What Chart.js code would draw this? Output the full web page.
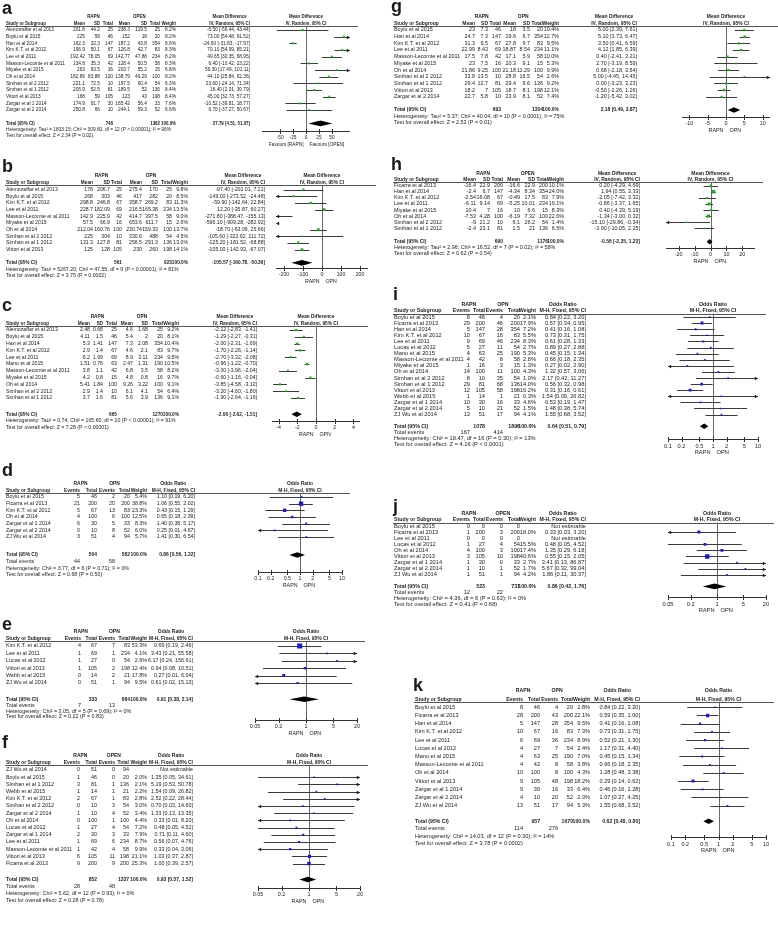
<!DOCTYPE html>
<html>
<head>
<meta charset="utf-8">
<script src="https://cdn.jsdelivr.net/npm/chart.js@4.4.0/dist/chart.umd.min.js"></script>
<style>
  body { margin: 0; background: #fff; width: 778px; height: 936px; position: relative; overflow: hidden; }
  canvas { position: absolute; }
</style>
</head>
<body>
<script>
// ===================== DATA =====================

// a - mean difference (RAPN vs OPEN)
const aStudy = ['Alemozaffar et al 2013','Boylu et al 2015','Han et al 2014','Kim K.T. et al 2012','Lee et al 2011','Masson-Lecomte et al 2011','Miyake et al 2015','Oh et al 2014','Simhan et al 2 2012','Simhan et al 1 2012','Vittori et al 2013','Zargar et al 1 2014','Zargar et al 2 2014'];
const aRapn = ['201.8 44.2 25','225 58 46','162.3 32.3 147','196.9 50.1 67','192.42 78.05 69','134.8 35.3 42','263 63.5 16','182.89 83.88 100','221.1 72.5 10','205.9 52.5 81','168 59 105','174.9 61.7 30','250.8 66 10'];
const aOpn = ['238.3 119.5 25','152 18 20','187.2 43.8 354','126.8 42.7 83','142.77 47.88 234','128.4 50.5 58','203.7 55.2 15','138.79 49.29 100','197.5 60.4 54','189.5 52 136','123 43 198','185.42 56.4 33','244.1 59.3 52'];
const aWeight = [8.2,8.2,8.6,8.3,8.2,8.3,6.8,8.2,6.3,8.4,8.4,7.6,6.6];
const aEst = [-6.50,73.00,-24.90,70.10,49.65,6.40,59.30,44.10,23.60,16.40,45.00,-10.52,6.70];
const aLow = [-56.44,54.48,-31.83,54.99,30.35,-10.42,17.49,25.84,-24.14,2.01,32.73,-39.81,-37.27];
const aHigh = [43.44,91.52,-17.97,85.21,68.95,23.22,101.11,62.36,71.34,30.79,57.27,18.77,50.67];
const aTotalN = [748, 1362];
const aPooled = [27.79, 4.51, 51.07];
const aHet = 'Heterogeneity: Tau² = 1833.15; Chi² = 309.60, df = 12 (P < 0.00001); I² = 96%';
const aTest = 'Test for overall effect: Z = 2.34 (P = 0.02)';
const aTicks = [-50,-25,0,25,50];

// b
const bStudy = ['Alemozaffar et al 2013','Boylu et al 2015','Kim K.T. et al 2012','Lee et al 2011','Masson-Lecomte et al 2011','Miyake et al 2015','Oh et al 2014','Simhan et al 2 2012','Simhan et al 1 2012','Vittori et al 2013'];
const bRapn = ['178 206.7 25','268 303 46','298.8 246.8 67','228.7 182.09 69','142.9 225.9 42','57.5 66.9 16','212.04 160.76 100','225 304 10','131.3 127.8 81','125 128 105'];
const bOpn = ['275.4 170 25','417 282 20','358.7 269.2 83','216.5 165.38 234','414.7 397.5 58','653.6 611.7 15','230.74 159.33 100','330.6 488 54','256.5 291.3 136','230 260 198'];
const bWeight = [9.8,8.5,11.3,13.5,9.0,2.6,13.7,4.5,13.0,14.1];
const bEst = [-97.40,-149.00,-59.90,12.20,-271.80,-596.10,-18.70,-105.60,-125.20,-105.00];
const bLow = [-202.01,-273.52,-142.64,-35.87,-388.47,-909.28,-63.06,-322.92,-181.52,-142.93];
const bHigh = [7.21,-24.48,22.84,60.27,-155.13,-282.92,25.66,111.72,-68.88,-67.07];
const bTotalN = [561, 923];
const bPooled = [-105.57, -160.78, -50.36];
const bHet = 'Heterogeneity: Tau² = 5267.20; Chi² = 47.55, df = 9 (P < 0.00001); I² = 81%';
const bTest = 'Test for overall effect: Z = 3.75 (P = 0.0002)';
const bTicks = [-200,-100,0,100,200];

// c
const cStudy = ['Alemozaffar et al 2013','Boylu et al 2015','Han et al 2014','Kim K.T. et al 2012','Lee et al 2011','Mano et al 2015','Masson-Lecomte et al 2011','Miyake et al 2015','Oh et al 2014','Simhan et al 2 2012','Simhan et al 1 2012'];
const cRapn = ['2.48 0.68 25','4.11 1.5 46','5.3 1.41 147','2.9 1.4 67','6.2 1.99 69','1.51 0.76 63','3.8 1.1 42','4.2 0.8 15','5.41 1.84 100','2.9 1.4 10','3.7 1.6 81'];
const cOpn = ['4.6 1.68 25','5.4 2 20','7.3 2.08 354','4.6 2.1 83','8.9 3.11 234','2.47 1.31 190','6.8 3.5 58','4.8 0.8 16','9.26 3.22 100','6.1 4.1 54','5.6 3.9 136'];
const cWeight = [9.2,8.1,10.4,9.7,9.5,10.5,8.2,9.7,9.1,6.4,9.1];
const cEst = [-2.12,-1.29,-2.00,-1.70,-2.70,-0.96,-3.00,-0.60,-3.85,-3.20,-1.90];
const cLow = [-2.83,-2.27,-2.31,-2.26,-3.32,-1.22,-3.96,-1.16,-4.58,-4.60,-2.64];
const cHigh = [-1.41,-0.31,-1.69,-1.14,-2.08,-0.70,-2.04,-0.04,-3.12,-1.80,-1.16];
const cTotalN = [665, 1270];
const cPooled = [-2.06, -2.62, -1.51];
const cHet = 'Heterogeneity: Tau² = 0.74; Chi² = 105.60, df = 10 (P < 0.00001); I² = 91%';
const cTest = 'Test for overall effect: Z = 7.28 (P < 0.00001)';
const cTicks = [-4,-2,0,2,4];

// d - odds ratio
const dStudy = ['Boylu et al 2015','Ficarra et al 2013','Kim K.T. et al 2012','Oh et al 2014','Zargar et al 1 2014','Zargar et al 2 2014','ZJ Wu et al 2014'];
const dRapn = ['5 46','21 200','5 67','4 100','6 30','0 10','3 51'];
const dOpn = ['2 20','20 200','13 83','6 100','5 33','8 52','4 94'];
const dWeight = [5.4,38.8,23.3,12.5,8.3,6.0,5.7];
const dEst = [1.10,1.06,0.43,0.65,1.40,0.25,1.41];
const dLow = [0.19,0.55,0.15,0.18,0.38,0.01,0.30];
const dHigh = [6.20,2.02,1.29,2.39,5.17,4.67,6.54];
const dTotalN = [504, 582];
const dEvents = [44, 58];
const dPooled = [0.86, 0.56, 1.32];
const dHet = 'Heterogeneity: Chi² = 3.77, df = 6 (P = 0.71); I² = 0%';
const dTest = 'Test for overall effect: Z = 0.68 (P = 0.50)';
const dTicks = [0.1,0.2,0.5,1,2,5,10];

// e
const eStudy = ['Kim K.T. et al 2012','Lee et al 2011','Lucas et al 2012','Vittori et al 2013','Webb et al 2015','ZJ Wu et al 2014'];
const eRapn = ['4 67','1 69','1 27','1 105','0 14','0 51'];
const eOpn = ['7 83','1 234','0 54','2 198','2 21','1 94'];
const eWeight = [53.3,4.1,2.9,12.4,17.8,9.5];
const eEst = [0.69,3.43,6.17,0.94,0.27,0.61];
const eLow = [0.19,0.21,0.24,0.08,0.01,0.02];
const eHigh = [2.46,55.58,156.61,10.51,6.04,15.13];
const eTotalN = [333, 684];
const eEvents = [7, 13];
const ePooled = [0.91, 0.38, 2.14];
const eHet = 'Heterogeneity: Chi² = 3.05, df = 5 (P = 0.69); I² = 0%';
const eTest = 'Test for overall effect: Z = 0.22 (P = 0.83)';
const eTicks = [0.05,0.2,1,5,20];

// f
const fStudy = ['ZJ Wu et al 2014','Boylu et al 2015','Simhan et al 1 2012','Webb et al 2015','Kim K.T. et al 2012','Simhan et al 2 2012','Zargar et al 2 2014','Oh et al 2014','Lucas et al 2012','Zargar et al 1 2014','Lee et al 2011','Masson-Lecomte et al 2011','Vittori et al 2013','Ficarra et al 2013'];
const fRapn = ['0 51','1 46','3 81','1 14','2 67','0 10','1 10','0 100','1 27','2 30','1 69','1 42','6 105','9 200'];
const fOpn = ['0 94','0 20','1 136','1 21','1 83','3 54','4 52','1 100','4 54','3 33','6 234','4 58','11 198','9 200'];
const fWeight = [null,2.0,2.1,2.2,2.8,3.0,3.4,4.4,7.2,7.9,8.7,9.9,21.1,25.3];
const fEst = [null,1.35,5.19,1.54,2.52,0.70,1.33,0.33,0.48,0.71,0.56,0.33,1.03,1.00];
const fLow = [null,0.05,0.53,0.09,0.22,0.03,0.13,0.01,0.05,0.11,0.07,0.04,0.37,0.39];
const fHigh = [null,34.61,50.78,26.82,28.44,14.60,13.35,8.20,4.52,4.60,4.76,3.06,2.87,2.57];
const fTotalN = [852, 1337];
const fEvents = [28, 48];
const fPooled = [0.93, 0.57, 1.52];
const fHet = 'Heterogeneity: Chi² = 5.62, df = 12 (P = 0.93); I² = 0%';
const fTest = 'Test for overall effect: Z = 0.28 (P = 0.78)';
const fTicks = [0.05,0.2,1,5,20];

// g - mean difference
const gStudy = ['Boylu et al 2015','Han et al 2014','Kim K.T. et al 2012','Lee et al 2011','Masson-Lecomte et al 2011','Miyake et al 2015','Oh et al 2014','Simhan et al 2 2012','Simhan et al 1 2012','Vittori et al 2013','Zargar et al 2 2014'];
const gRapn = ['23 7.3 46','24.7 7.3 147','31.3 9.5 67','22.99 8.43 69','17.5 7.8 42','23 7.5 16','21.86 9.25 100','33.8 13.5 10','29.4 12.7 81','18.2 7 105','22.7 5.8 10'];
const gOpn = ['18 3.5 20','19.6 6.7 354','27.8 9.7 83','18.87 8.54 234','17.1 5.9 58','20.3 9.1 15','21.18 11.29 100','28.8 16.5 54','29.4 9.6 136','18.7 8.1 198','23.9 8.1 52'];
const gWeight = [10.4,12.7,9.5,11.1,10.0,5.3,9.9,2.6,9.2,12.1,7.4];
const gEst = [5.00,5.10,3.50,4.12,0.40,2.70,0.68,5.00,0.00,-0.50,-1.20];
const gLow = [2.39,3.73,0.41,1.85,-2.41,-3.19,-2.18,-4.45,-3.23,-2.26,-5.42];
const gHigh = [7.61,6.47,6.59,6.39,3.21,8.59,3.54,14.45,3.23,1.26,3.02];
const gTotalN = [693, 1304];
const gPooled = [2.18, 0.49, 3.87];
const gHet = 'Heterogeneity: Tau² = 5.37; Chi² = 40.04, df = 10 (P < 0.0001); I² = 75%';
const gTest = 'Test for overall effect: Z = 2.53 (P = 0.01)';
const gTicks = [-10,-5,0,5,10];

// h
const hStudy = ['Ficarra et al 2013','Han et al 2014','Kim K.T. et al 2012','Lee et al 2011','Miyake et al 2015','Oh et al 2014','Simhan et al 2 2012','Simhan et al 1 2012'];
const hRapn = ['-16.4 22.9 200','-2.4 6.7 147','-2.54 16.08 67','-6.11 9.14 69','10.4 7 16','-7.53 4.28 100','-9 21.2 10','-2.4 23.1 81'];
const hOpn = ['-16.6 22.9 200','-4.34 8.34 354','-0.49 17.5 83','-5.25 10.01 234','10 6.6 15','-6.19 7.32 100','6.1 26.2 54','1.5 21 136'];
const hWeight = [10.1,24.0,7.9,19.1,8.3,22.6,1.4,6.5];
const hEst = [0.20,1.94,-2.05,-0.86,0.40,-1.34,-15.10,-3.90];
const hLow = [-4.29,0.55,-7.42,-3.37,-4.39,-3.00,-29.86,-10.05];
const hHigh = [4.69,3.33,3.32,1.65,5.19,0.32,-0.34,2.25];
const hTotalN = [690, 1176];
const hPooled = [-0.56, -2.35, 1.23];
const hHet = 'Heterogeneity: Tau² = 2.96; Chi² = 16.52, df = 7 (P = 0.02); I² = 58%';
const hTest = 'Test for overall effect: Z = 0.62 (P = 0.54)';
const hTicks = [-20,-10,0,10,20];

// i - odds ratio
const iStudy = ['Boylu et al 2015','Ficarra et al 2013','Han et al 2014','Kim K.T. et al 2012','Lee et al 2011','Lucas et al 2012','Mano et al 2015','Masson-Lecomte et al 2011','Miyake et al 2015','Oh et al 2014','Simhan et al 2 2012','Simhan et al 1 2012','Vittori et al 2013','Webb et al 2015','Zargar et al 1 2014','Zargar et al 2 2014','ZJ Wu et al 2014'];
const iRapn = ['8 46','29 200','5 147','10 67','9 69','5 27','4 63','4 42','1 16','14 100','8 10','29 81','12 105','1 14','10 30','5 10','13 51'];
const iOpn = ['4 20','46 200','28 354','16 83','46 234','11 54','25 190','8 58','3 15','11 100','35 54','68 136','58 198','1 21','16 33','21 52','17 94'];
const iWeight = [2.1,17.9,7.2,5.5,8.3,2.7,5.3,2.8,1.3,4.3,1.0,14.0,16.2,0.3,4.6,1.5,4.1];
const iEst = [0.84,0.57,0.41,0.73,0.61,0.89,0.45,0.66,0.27,1.32,2.17,0.56,0.31,1.54,0.53,1.48,1.55];
const iLow = [0.22,0.34,0.16,0.31,0.28,0.27,0.15,0.18,0.02,0.57,0.42,0.32,0.16,0.09,0.19,0.38,0.68];
const iHigh = [3.20,0.95,1.08,1.75,1.33,2.88,1.34,2.35,2.90,3.06,11.27,0.98,0.61,26.82,1.47,5.74,3.52];
const iTotalN = [1078, 1896];
const iEvents = [167, 414];
const iPooled = [0.64, 0.51, 0.79];
const iHet = 'Heterogeneity: Chi² = 18.47, df = 16 (P = 0.30); I² = 13%';
const iTest = 'Test for overall effect: Z = 4.16 (P < 0.0001)';
const iTicks = [0.1,0.2,0.5,1,2,5,10];

// j
const jStudy = ['Boylu et al 2015','Ficarra et al 2013','Lee et al 2011','Lucas et al 2012','Oh et al 2014','Vittori et al 2013','Zargar et al 1 2014','Zargar et al 2 2014','ZJ Wu et al 2014'];
const jRapn = ['0 0','1 200','0 0','1 27','4 100','3 105','1 30','1 10','1 51'];
const jOpn = ['0 0','3 200','0 0','4 54','3 100','10 198','0 33','1 52','1 94'];
const jWeight = [null,18.0,null,15.5,17.4,40.6,2.7,1.7,4.2];
const jEst = [null,0.33,null,0.48,1.35,0.55,3.41,5.67,1.86];
const jLow = [null,0.03,null,0.05,0.29,0.15,0.13,0.32,0.11];
const jHigh = [null,3.20,null,4.52,6.18,2.05,86.87,99.04,30.37];
const jTotalN = [523, 731];
const jEvents = [12, 22];
const jPooled = [0.86, 0.42, 1.76];
const jHet = 'Heterogeneity: Chi² = 4.36, df = 6 (P = 0.63); I² = 0%';
const jTest = 'Test for overall effect: Z = 0.41 (P = 0.68)';
const jTicks = [0.05,0.2,1,5,20];

// k
const kStudy = ['Boylu et al 2015','Ficarra et al 2013','Han et al 2014','Kim K.T. et al 2012','Lee et al 2011','Lucas et al 2012','Mano et al 2015','Masson-Lecomte et al 2011','Oh et al 2014','Vittori et al 2013','Zargar et al 1 2014','Zargar et al 2 2014','ZJ Wu et al 2014'];
const kRapn = ['8 46','28 200','5 147','10 67','6 69','4 27','4 63','4 42','10 100','9 105','9 30','4 10','13 51'];
const kOpn = ['4 20','43 200','28 354','16 83','36 234','7 54','25 190','8 58','8 100','48 198','16 33','20 52','17 94'];
const kWeight = [2.8,22.1,9.5,7.3,8.9,2.4,7.0,3.8,4.3,18.2,6.4,2.3,5.3];
const kEst = [0.84,0.59,0.41,0.73,0.52,1.17,0.45,0.66,1.28,0.29,0.46,1.07,1.55];
const kLow = [0.22,0.35,0.16,0.31,0.21,0.31,0.15,0.18,0.48,0.14,0.16,0.27,0.68];
const kHigh = [3.20,1.00,1.08,1.75,1.30,4.40,1.34,2.35,3.38,0.62,1.28,4.25,3.52];
const kTotalN = [957, 1670];
const kEvents = [114, 276];
const kPooled = [0.62, 0.48, 0.80];
const kHet = 'Heterogeneity: Chi² = 14.03, df = 12 (P = 0.30); I² = 14%';
const kTest = 'Test for overall effect: Z = 3.78 (P = 0.0002)';
const kTicks = [0.1,0.2,0.5,1,2,5,10];

// ===================== LAYOUT (page pixels) =====================
const FONT = '"Liberation Sans", Arial, sans-serif';
const RO = ['RAPN', 'OPN'];
const RAPN_OPN = ['RAPN', 'OPN'];

const panels = [
  { id: 'a', letter: [2, 14], x0: 0, y0: 0, w: 388, h: 148, fs: 4.8, md: true,
    nameX: 6, cols: [85,100,113,130,147,160], wX: 176, ciR: 250, plotL: 262, plotR: 350, xmin: -85, xmax: 85,
    yFirst: 30, rowH: 6.67, gap: 2, yAxis: 131,
    study: aStudy, g1: aRapn, g2: aOpn, weight: aWeight, est: aEst, lo: aLow, hi: aHigh,
    totalN: aTotalN, pooled: aPooled, het: aHet, test: aTest, ticks: aTicks,
    groups: ['RAPN', 'OPEN'], sides: ['Favours [RAPN]', 'Favours [OPEN]'] },
  { id: 'b', letter: [2, 172], x0: 0, y0: 152, w: 388, h: 138, fs: 5.2, md: true,
    nameX: 6, cols: [93,110,122,142,158,172], wX: 188, ciR: 265, plotL: 276, plotR: 368, xmin: -242, xmax: 242,
    yFirst: 189.5, rowH: 6.67, gap: 2, yAxis: 268,
    study: bStudy, g1: bRapn, g2: bOpn, weight: bWeight, est: bEst, lo: bLow, hi: bHigh,
    totalN: bTotalN, pooled: bPooled, het: bHet, test: bTest, ticks: bTicks,
    groups: RO, sides: RAPN_OPN },
  { id: 'c', letter: [2, 311], x0: 0, y0: 293, w: 388, h: 148, fs: 5.2, md: true,
    nameX: 6, cols: [90,103,117,133,148,163], wX: 179, ciR: 257, plotL: 272, plotR: 360, xmin: -4.7, xmax: 4.7,
    yFirst: 330, rowH: 6.8, gap: 2.4, yAxis: 421,
    study: cStudy, g1: cRapn, g2: cOpn, weight: cWeight, est: cEst, lo: cLow, hi: cHigh,
    totalN: cTotalN, pooled: cPooled, het: cHet, test: cTest, ticks: cTicks,
    groups: RO, sides: RAPN_OPN },
  { id: 'd', letter: [2, 476], x0: 0, y0: 459, w: 388, h: 134, fs: 5.3, md: false, log: true,
    nameX: 6, cols: [80,97,115,130], wX: 147, ciR: 195, plotL: 258, plotR: 342, xmin: 0.1, xmax: 10,
    yFirst: 497, rowH: 6.67, gap: 2.7, yAxis: 572,
    study: dStudy, g1: dRapn, g2: dOpn, weight: dWeight, est: dEst, lo: dLow, hi: dHigh,
    totalN: dTotalN, events: dEvents, pooled: dPooled, het: dHet, test: dTest, ticks: dTicks,
    groups: RO, sides: RAPN_OPN },
  { id: 'e', letter: [2, 630], x0: 0, y0: 613, w: 388, h: 125, fs: 5.4, md: false, log: true,
    nameX: 6, cols: [81,97,115,130], wX: 147, ciR: 193, plotL: 255, plotR: 357, xmin: 0.05, xmax: 20,
    yFirst: 646, rowH: 7.4, subH: 6, gap: 2.2, yAxis: 720,
    study: eStudy, g1: eRapn, g2: eOpn, weight: eWeight, est: eEst, lo: eLow, hi: eHigh,
    totalN: eTotalN, events: eEvents, pooled: ePooled, het: eHet, test: eTest, ticks: eTicks,
    groups: RO, sides: RAPN_OPN },
  { id: 'f', letter: [2, 748], x0: 0, y0: 733, w: 388, h: 180, fs: 5.4, md: false, log: true,
    nameX: 6, cols: [80,97,115,129], wX: 147, ciR: 193, plotL: 258, plotR: 360, xmin: 0.05, xmax: 20,
    yFirst: 770, rowH: 7.2, subH: 7, gap: 2.2, yAxis: 888,
    study: fStudy, g1: fRapn, g2: fOpn, weight: fWeight, est: fEst, lo: fLow, hi: fHigh,
    totalN: fTotalN, events: fEvents, pooled: fPooled, het: fHet, test: fTest, ticks: fTicks,
    groups: ['RAPN', 'OPEN'], sides: RAPN_OPN },
  { id: 'g', letter: [391, 12], x0: 388, y0: 0, w: 390, h: 140, fs: 5.4, md: true,
    nameX: 394, cols: [475,488,501,516,530,543], wX: 559, ciR: 637, plotL: 682, plotR: 770, xmin: -12, xmax: 12,
    yFirst: 30, rowH: 6.67, gap: 2, yAxis: 117,
    study: gStudy, g1: gRapn, g2: gOpn, weight: gWeight, est: gEst, lo: gLow, hi: gHigh,
    totalN: gTotalN, pooled: gPooled, het: gHet, test: gTest, ticks: gTicks,
    groups: RO, sides: RAPN_OPN },
  { id: 'h', letter: [391, 170], x0: 388, y0: 152, w: 390, h: 120, fs: 5.4, md: true,
    nameX: 394, cols: [476,490,503,520,535,548], wX: 564, ciR: 640, plotL: 666, plotR: 755, xmin: -28, xmax: 28,
    yFirst: 185.7, rowH: 6.1, gap: 2.2, yAxis: 248,
    study: hStudy, g1: hRapn, g2: hOpn, weight: hWeight, est: hEst, lo: hLow, hi: hHigh,
    totalN: hTotalN, pooled: hPooled, het: hHet, test: hTest, ticks: hTicks,
    groups: ['RAPN', 'OPEN'], sides: RAPN_OPN },
  { id: 'i', letter: [393, 300], x0: 388, y0: 283, w: 390, h: 175, fs: 5.7, md: false, log: true,
    nameX: 394, cols: [470,485,503,520], wX: 536, ciR: 586, plotL: 668, plotR: 758, xmin: 0.1, xmax: 10,
    yFirst: 317, rowH: 6.1, gap: 1.9, yAxis: 439,
    study: iStudy, g1: iRapn, g2: iOpn, weight: iWeight, est: iEst, lo: iLow, hi: iHigh,
    totalN: iTotalN, events: iEvents, pooled: iPooled, het: iHet, test: iTest, ticks: iTicks,
    groups: RO, sides: RAPN_OPN },
  { id: 'j', letter: [393, 512], x0: 388, y0: 496, w: 390, h: 120, fs: 5.7, md: false, log: true,
    nameX: 394, cols: [470,485,503,520], wX: 536, ciR: 586, plotL: 668, plotR: 766, xmin: 0.05, xmax: 20,
    yFirst: 526, rowH: 6.1, gap: 1.9, yAxis: 597,
    study: jStudy, g1: jRapn, g2: jOpn, weight: jWeight, est: jEst, lo: jLow, hi: jHigh,
    totalN: jTotalN, events: jEvents, pooled: jPooled, het: jHet, test: jTest, ticks: jTicks,
    groups: ['RAPN', 'OPEN'], sides: RAPN_OPN },
  { id: 'k', letter: [413, 691], x0: 388, y0: 676, w: 390, h: 180, fs: 5.6, md: false, log: true,
    nameX: 415, cols: [523,540,558,573], wX: 590, ciR: 640, plotL: 671, plotR: 766, xmin: 0.1, xmax: 10,
    yFirst: 707.3, rowH: 8.2, subH: 7.5, gap: 1.9, yAxis: 837,
    study: kStudy, g1: kRapn, g2: kOpn, weight: kWeight, est: kEst, lo: kLow, hi: kHigh,
    totalN: kTotalN, events: kEvents, pooled: kPooled, het: kHet, test: kTest, ticks: kTicks,
    groups: RO, sides: RAPN_OPN }
];

function ciText(e, l, h) {
  if (e === null) return 'Not estimable';
  return e.toFixed(2) + ' [' + l.toFixed(2) + ', ' + h.toFixed(2) + ']';
}

// table text, CI whiskers, diamond and axis, all placed with the chart's scales
function forest(p) {
  return {
    id: 'forest_' + p.id,
    beforeDatasetsDraw(chart) {
      const ctx = chart.ctx, xs = chart.scales.x, ys = chart.scales.y, a = chart.chartArea;
      const lx = v => v - p.x0;
      const X = v => xs.getPixelForValue(v);
      const Y = v => ys.getPixelForValue(v);
      const n = p.study.length;
      const tot = n - 1 + p.gap;
      const sub = (p.subH || p.rowH) / p.rowH;
      const nullV = p.log ? 1 : 0;
      const font = b => (b ? 'bold ' + (p.fs * 0.92).toFixed(2) : p.fs) + 'px ' + FONT;
      const txt = (s, x, y, al, b) => { ctx.font = font(b); ctx.textAlign = al; ctx.fillText(s, x, y); };

      ctx.save();
      ctx.fillStyle = '#1a1a1a';
      ctx.textBaseline = 'alphabetic';
      ctx.font = 'bold 18px ' + FONT;
      ctx.textAlign = 'left';
      ctx.fillText(p.id, lx(p.letter[0]), p.letter[1] - p.y0);

      ctx.fillStyle = '#222';
      ctx.textBaseline = 'middle';
      const k = p.md ? 3 : 2;
      const hdr = p.md ? ['Mean','SD','Total','Mean','SD','Total'] : ['Events','Total','Events','Total'];
      const effect = p.md ? 'Mean Difference' : 'Odds Ratio';
      const method = p.md ? 'IV, Random, 95% CI' : 'M-H, Fixed, 95% CI';

      // header rows
      ctx.font = font(true);
      const w0 = ctx.measureText(hdr[0]).width;
      const mw = ctx.measureText(method).width;
      const yg = Y(-2), yc = Y(-1);
      txt(p.groups[0], lx((p.cols[0] - w0 + p.cols[k - 1]) / 2), yg, 'center', true);
      txt(p.groups[1], lx((p.cols[k] - w0 + p.cols[2 * k - 1]) / 2), yg, 'center', true);
      txt(effect, lx(p.ciR - mw / 2), yg, 'center', true);
      txt(effect, (a.left + a.right) / 2, yg, 'center', true);
      txt('Study or Subgroup', lx(p.nameX), yc, 'left', true);
      hdr.forEach((h, c) => txt(h, lx(p.cols[c]), yc, 'right', true));
      txt('Weight', lx(p.wX), yc, 'right', true);
      txt(method, lx(p.ciR), yc, 'right', true);
      txt(method, (a.left + a.right) / 2, yc, 'center', true);

      ctx.strokeStyle = '#555';
      ctx.lineWidth = 1;
      const yl = Math.round(a.top) + 0.5;
      ctx.beginPath();
      ctx.moveTo(lx(p.nameX) - 1, yl);
      ctx.lineTo(a.right + 8, yl);
      ctx.stroke();

      // study rows
      p.study.forEach((s, i) => {
        const y = Y(i);
        txt(s, lx(p.nameX), y, 'left');
        const vals = p.g1[i].split(' ').concat(p.g2[i].split(' '));
        vals.forEach((v, c) => txt(v, lx(p.cols[c]), y, 'right'));
        if (p.weight[i] !== null) txt(p.weight[i].toFixed(1) + '%', lx(p.wX), y, 'right');
        txt(ciText(p.est[i], p.lo[i], p.hi[i]), lx(p.ciR), y, 'right');
      });

      // totals
      const yt = Y(tot);
      txt('Total (95% CI)', lx(p.nameX), yt, 'left', true);
      txt(String(p.totalN[0]), lx(p.cols[k - 1]), yt, 'right', true);
      txt(String(p.totalN[1]), lx(p.cols[2 * k - 1]), yt, 'right', true);
      txt('100.0%', lx(p.wX), yt, 'right', true);
      txt(ciText(p.pooled[0], p.pooled[1], p.pooled[2]), lx(p.ciR), yt, 'right', true);
      let next = tot + sub * 0.95;
      if (p.events) {
        next = tot + sub;
        txt('Total events', lx(p.nameX), Y(next), 'left');
        txt(String(p.events[0]), lx(p.cols[0]), Y(next), 'right');
        txt(String(p.events[1]), lx(p.cols[2]), Y(next), 'right');
        next += sub;
      }
      txt(p.het, lx(p.nameX), Y(next), 'left');
      txt(p.test, lx(p.nameX), Y(next + sub * 0.95), 'left');

      // null line
      const xn = Math.round(X(nullV)) + 0.5;
      ctx.strokeStyle = '#666';
      ctx.beginPath();
      ctx.moveTo(xn, a.top);
      ctx.lineTo(xn, a.bottom);
      ctx.stroke();

      // confidence intervals
      const arrow = (x, y, dir) => {
        ctx.beginPath();
        ctx.moveTo(x, y);
        ctx.lineTo(x - dir * 3.2, y - 1.7);
        ctx.lineTo(x - dir * 3.2, y + 1.7);
        ctx.closePath();
        ctx.fill();
      };
      ctx.strokeStyle = '#3a3a3a';
      ctx.fillStyle = '#1a1a1a';
      p.est.forEach((e, i) => {
        if (e === null) return;
        const y = Math.round(Y(i)) + 0.5;
        const x1 = X(p.lo[i]), x2 = X(p.hi[i]);
        if (x2 < a.left) { arrow(a.left, y, -1); return; }
        if (x1 > a.right) { arrow(a.right, y, 1); return; }
        ctx.beginPath();
        ctx.moveTo(Math.max(x1, a.left), y);
        ctx.lineTo(Math.min(x2, a.right), y);
        ctx.stroke();
        if (x1 < a.left) arrow(a.left, y, -1);
        if (x2 > a.right) arrow(a.right, y, 1);
      });

      // pooled diamond
      ctx.fillStyle = '#000';
      ctx.beginPath();
      ctx.moveTo(X(p.pooled[1]), yt);
      ctx.lineTo(X(p.pooled[0]), yt - 2.8);
      ctx.lineTo(X(p.pooled[2]), yt);
      ctx.lineTo(X(p.pooled[0]), yt + 2.8);
      ctx.closePath();
      ctx.fill();

      // axis
      const yb = Math.round(a.bottom) + 0.5;
      ctx.strokeStyle = '#333';
      ctx.beginPath();
      ctx.moveTo(a.left, yb);
      ctx.lineTo(a.right, yb);
      p.ticks.forEach(t => {
        const xt = Math.round(X(t)) + 0.5;
        ctx.moveTo(xt, yb - 2.5);
        ctx.lineTo(xt, yb + 2.5);
      });
      ctx.stroke();
      ctx.fillStyle = '#222';
      p.ticks.forEach(t => txt(String(t), X(t), yb + 6.5, 'center'));
      txt(p.sides[0], xn - 3, yb + 13, 'right');
      txt(p.sides[1], xn + 3, yb + 13, 'left');
      ctx.restore();
    }
  };
}

function drawPanel(p) {
  const cv = document.createElement('canvas');
  cv.width = p.w;
  cv.height = p.h;
  cv.style.left = p.x0 + 'px';
  cv.style.top = p.y0 + 'px';
  document.body.appendChild(cv);

  const yLine = p.yFirst - p.rowH + 2.6;
  const pts = [], radii = [];
  p.est.forEach((e, i) => {
    if (e === null) return;
    pts.push({ x: e, y: i });
    const side = Math.max(1.6, 7 * Math.sqrt(p.weight[i] / 100));
    radii.push(side / Math.SQRT2);
  });

  new Chart(cv, {
    type: 'scatter',
    data: {
      datasets: [{
        data: pts,
        pointStyle: 'rect',
        pointRadius: radii,
        pointBorderWidth: 0,
        backgroundColor: p.md ? '#1fae1f' : '#1c1cc4',
        borderWidth: 0
      }]
    },
    options: {
      responsive: false,
      animation: false,
      devicePixelRatio: 1,
      layout: {
        padding: {
          left: p.plotL - p.x0,
          right: p.x0 + p.w - p.plotR,
          top: yLine - p.y0,
          bottom: p.y0 + p.h - p.yAxis
        }
      },
      scales: {
        x: { type: p.log ? 'logarithmic' : 'linear', min: p.xmin, max: p.xmax, display: false },
        y: { type: 'linear', min: (yLine - p.yFirst) / p.rowH, max: (p.yAxis - p.yFirst) / p.rowH, reverse: true, display: false }
      },
      plugins: { legend: { display: false }, tooltip: { enabled: false } }
    },
    plugins: [forest(p)]
  });
}

panels.forEach(drawPanel);
</script>
</body>
</html>
